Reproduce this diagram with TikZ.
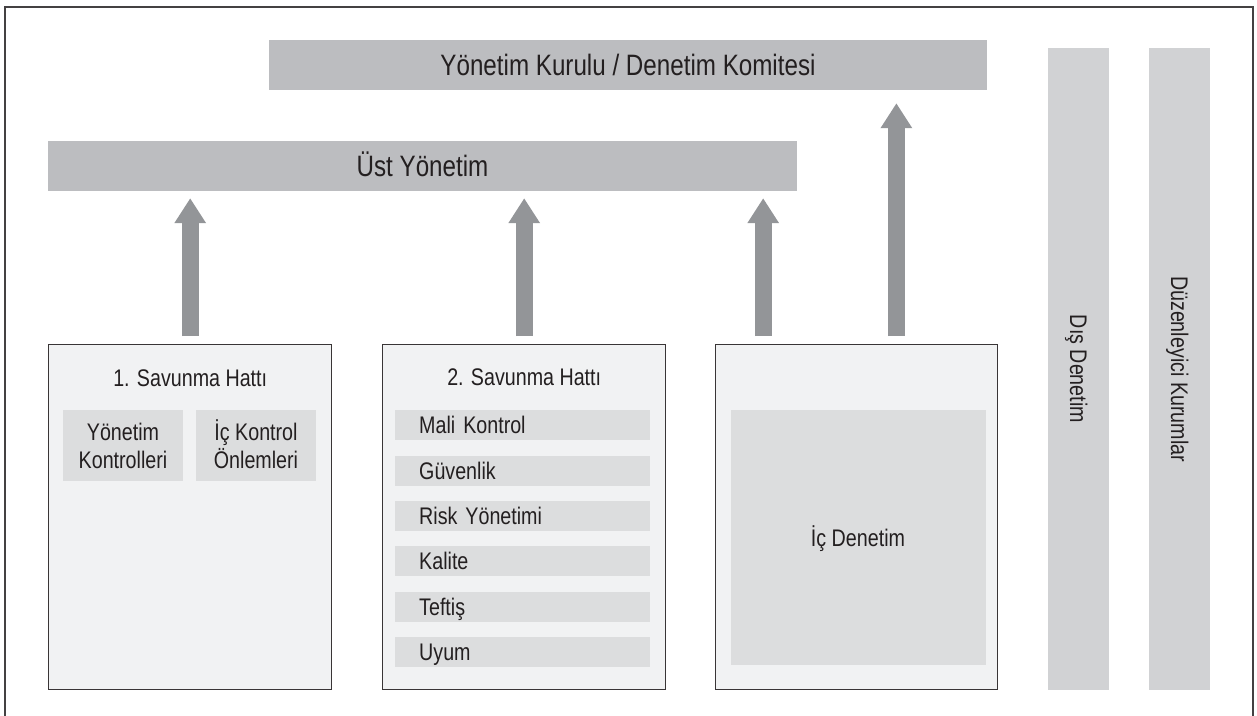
\documentclass[tikz,border=0pt]{standalone}
\usepackage{fontspec}
\setmainfont{Liberation Sans}[FakeStretch=0.82]
\usepackage{tikz}
\usetikzlibrary{positioning,calc,arrows.meta}

\definecolor{ink}{HTML}{231F20}
\definecolor{barfill}{HTML}{BCBDC0}
\definecolor{okfill}{HTML}{939598}
\definecolor{kolonfill}{HTML}{D1D2D4}
\definecolor{hatfill}{HTML}{F1F2F3}
\definecolor{kutufill}{HTML}{DCDDDE}

\tikzset{
  ustbar/.style={fill=barfill, text=ink, inner sep=0pt, minimum height=50pt, text height=21pt, text depth=0pt, font=\fontsize{29.5}{34}\selectfont},
  hat/.style={draw=ink!90, line width=1.4pt, fill=hatfill, anchor=north west, minimum width=283pt, minimum height=345pt, inner sep=0pt},
  baslik/.style={anchor=base, text=ink, font=\fontsize{24}{28}\selectfont},
  kutu/.style={fill=kutufill, text=ink, inner sep=0pt, align=center, text height=17pt, font=\fontsize{24}{28}\selectfont},
  serit/.style={kutu, text width=207pt, inner xsep=24pt, minimum height=30pt, text depth=0pt, align=left},
  kolon/.style={fill=kolonfill, text=ink, rotate=-90, inner sep=0pt, minimum width=642pt, minimum height=61pt, text height=17pt, text depth=0pt, font=\fontsize{24}{28}\selectfont},
  ok/.style={draw=okfill, line width=17pt, -{Triangle[width=30pt,length=25pt]}, shorten <=8pt}
}

\begin{document}
\begin{tikzpicture}[x=1pt,y=-1pt]
            \useasboundingbox (0,0) rectangle (1257,715);
            \draw[ink!85, line width=1.5pt] (5,716) -- (5,7) -- (1253,7) -- (1253,716);

            \node[ustbar, minimum width=718pt] (kurul) at (628,65) {Yönetim Kurulu / Denetim Komitesi};
            \node[ustbar, minimum width=749pt] (ust) at (422.5,166) {Üst Yönetim};

            \node[hat] (hat1) at (48,344) {};
            \node[hat] (hat2) at (382,344) {};
            \node[hat, minimum width=282pt] (hat3) at (715,344) {};

            \node[baslik] (t1) at ($(hat1.north)+(0,42)$) {1. Savunma Hattı};
            \node[baslik] (t2) at ($(hat2.north)+(0,41)$) {2. Savunma Hattı};

            \node[kutu, minimum width=120pt, minimum height=71pt, text height=45pt, text depth=0pt] (yk) at (123,445.5) {Yönetim\\Kontrolleri};
            \node[kutu, minimum width=120pt, minimum height=71pt, text height=45pt, text depth=0pt] (ick) at (256,445.5) {İç Kontrol\\Önlemleri};

            \node[serit, anchor=north west] (mali) at (395,410) {Mali Kontrol};
            \node[serit, below=15pt of mali] (guven) {Güvenlik};
            \node[serit, below=15pt of guven] (risk) {Risk Yönetimi};
            \node[serit, below=15pt of risk] (kalite) {Kalite};
            \node[serit, below=15pt of kalite] (teftis) {Teftiş};
            \node[serit, below=15pt of teftis] (uyum) {Uyum};

            \node[kutu, minimum width=255pt, minimum height=255pt, text depth=0pt] (icden) at (858,537.5) {İç Denetim};

            \node[kolon] (dis) at (1078.5,369) {Dış Denetim};
            \node[kolon] (duz) at (1179.5,369) {Düzenleyici Kurumlar};

            \coordinate (a3) at ($(hat3.north west)!0.17!(hat3.north east)$);
            \coordinate (a4) at ($(hat3.north west)!0.64!(hat3.north east)$);

            \draw[ok, shorten >=7pt] (hat1.north) -- (hat1.north |- ust.south);
            \draw[ok, shorten >=7pt] (hat2.north) -- (hat2.north |- ust.south);
            \draw[ok, shorten >=7pt] (a3) -- (a3 |- ust.south);
            \draw[ok, shorten >=13pt] (a4) -- (a4 |- kurul.south);
\end{tikzpicture}
\end{document}
